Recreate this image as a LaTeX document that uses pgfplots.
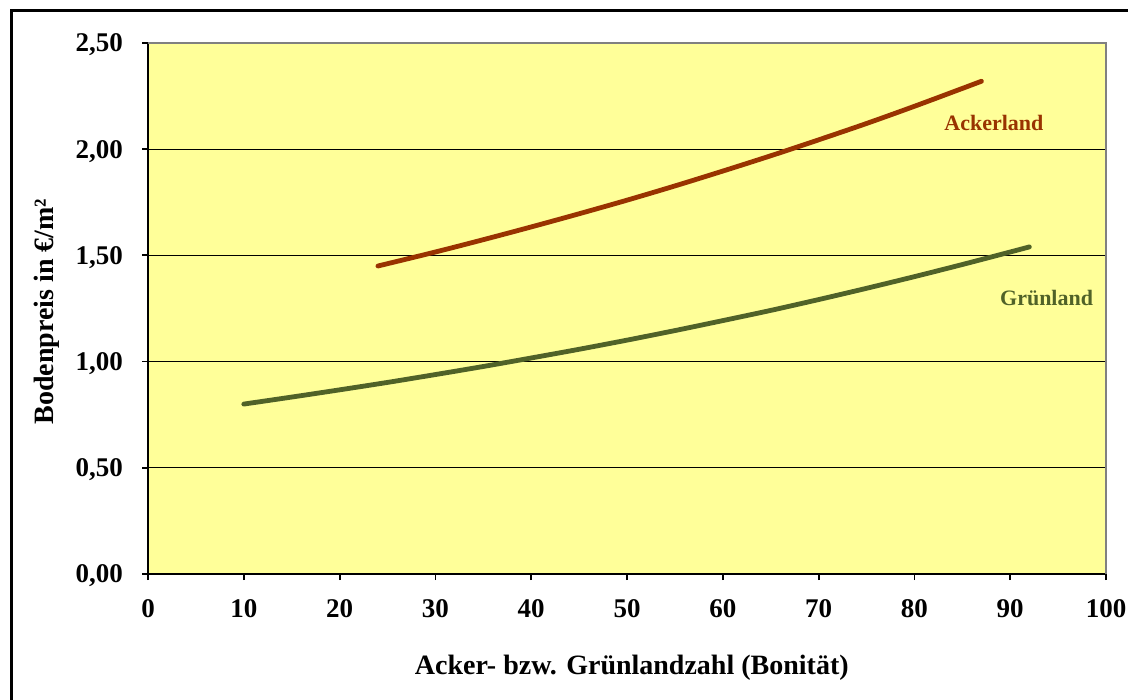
\documentclass[border=0pt]{standalone}
\usepackage{fontspec}
\setmainfont{Liberation Serif}
\usepackage{pgfplots}
\pgfplotsset{compat=1.18}

\definecolor{plotbg}{RGB}{255,255,153}
\definecolor{acker}{RGB}{153,51,0}
\definecolor{gruen}{RGB}{80,98,40}

\begin{document}
\begin{tikzpicture}
\begin{axis}[
  at={(74pt,63pt)}, anchor=south west,
  scale only axis, width=479pt, height=265.5pt,
  xmin=0, xmax=100, ymin=0, ymax=2.5,
  xtick={0,10,...,100}, ytick={0,0.5,...,2.5},
  axis x line*=bottom, axis y line*=left,
  axis line style={black, line width=0.9pt, -},
  tick align=outside, major tick length=3pt,
  tick style={black, line width=0.9pt},
  ymajorgrids, grid style={black, line width=0.5pt},
  axis background/.style={fill=plotbg},
  /pgf/number format/assume math mode=true,
  yticklabel style={/pgf/number format/fixed, /pgf/number format/fixed zerofill,
    /pgf/number format/precision=2, /pgf/number format/use comma, xshift=-6pt, yshift=-1pt},
  ticklabel style={font=\bfseries\fontsize{13.5}{16}\selectfont},
  xticklabel style={yshift=-6pt},
  xlabel={Acker- bzw. Grünlandzahl (Bonität)},
  ylabel={Bodenpreis in €/m²},
  xlabel style={font=\bfseries\fontsize{14}{17}\selectfont,
    at={(axis description cs:0.505,-0.190)}, anchor=base},
  ylabel style={font=\bfseries\fontsize{14}{17}\selectfont,
    at={(axis description cs:-0.099,0.494)}, anchor=base, rotate=0},
  clip=false,
]
\addplot[acker, line width=2.4pt, line cap=round, smooth] coordinates {
(24,1.450) (30,1.516) (35,1.574) (40,1.634) (45,1.696) (50,1.760) (55,1.827)
(60,1.897) (65,1.969) (70,2.044) (75,2.121) (80,2.202) (85,2.286) (87,2.320)
};
\addplot[gruen, line width=2.4pt, line cap=round, smooth] coordinates {
(10,0.800) (15,0.833) (20,0.867) (25,0.902) (30,0.939) (35,0.977) (40,1.017)
(45,1.058) (50,1.101) (55,1.146) (60,1.193) (65,1.241) (70,1.292) (75,1.345)
(80,1.400) (85,1.457) (90,1.516) (92,1.540)
};
\draw[gray, line width=0.6pt] (rel axis cs:0,1) -- (rel axis cs:1,1) -- (rel axis cs:1,0);
\node[acker, font=\bfseries\fontsize{11}{13}\selectfont, anchor=base] at (axis cs:88.3,2.09) {Ackerland};
\node[gruen, font=\bfseries\fontsize{11}{13}\selectfont, anchor=base] at (axis cs:93.8,1.266) {Grünland};
\end{axis}
\draw[black, line width=1.5pt] (5.75pt,-20pt) -- (5.75pt,344.5pt) -- (600pt,344.5pt);
\pgfresetboundingbox
\useasboundingbox (0,0) rectangle (564pt,350pt);
\end{tikzpicture}
\end{document}
